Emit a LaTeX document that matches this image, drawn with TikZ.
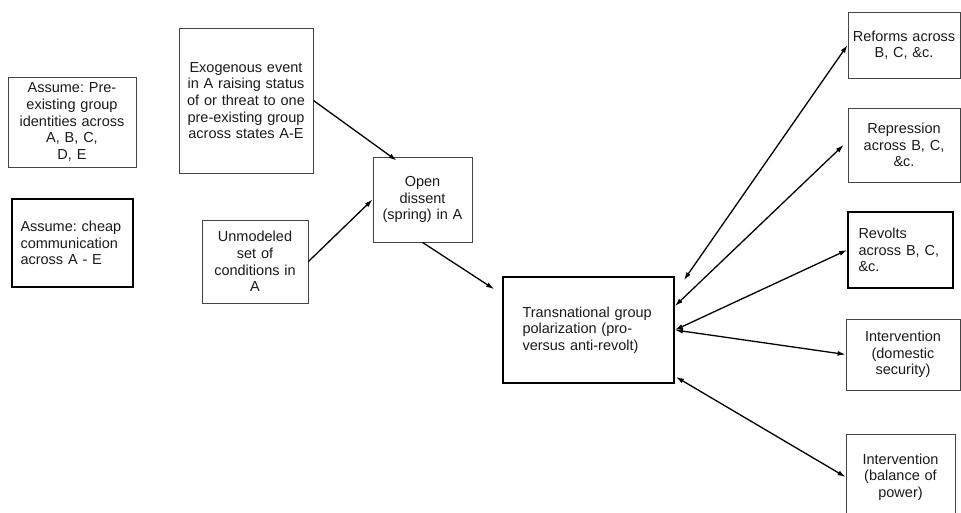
\documentclass[tikz,border=0pt]{standalone}
\usepackage{fontspec}
\setmainfont{Liberation Sans}
\usetikzlibrary{arrows.meta}
\definecolor{ink}{HTML}{1A1A1A}
\definecolor{thin}{HTML}{444444}
\tikzset{
  box/.style={draw=thin, line width=0.9pt, inner sep=0pt, text=ink,
    font=\frenchspacing\fontsize{14.5}{16.6}\selectfont, anchor=center},
  thickbox/.style={box, draw=black, line width=1.8pt},
  conn/.style={draw=black, line width=1.3pt, -{Latex[length=8pt,width=5pt]}},
  dconn/.style={draw=black, line width=1.3pt, {Latex[length=8pt,width=5pt]}-{Latex[length=8pt,width=5pt]}}
}
\begin{document}
\begin{tikzpicture}[x=1pt,y=-1pt]
\useasboundingbox (0,0) rectangle (961,513);
\clip (0,0) rectangle (961,513);
% left assumption boxes
\node[box, minimum width=128pt, minimum height=90pt, text width=124pt, align=center] (pre) at (72,122) {Assume: Pre-\\existing group\\identities across\\A, B, C,\\D, E};
\node[thickbox, minimum width=121pt, minimum height=88pt, text width=104pt, align=left] (cheap) at (72.5,243) {Assume: cheap\\communication\\across A - E};
% causes
\node[box, minimum width=134pt, minimum height=145pt, text width=130pt, align=center] (exo) at (246,100.5) {Exogenous event\\in A raising status\\of or threat to one\\pre-existing group\\across states A-E};
\node[box, minimum width=106pt, minimum height=83pt, text width=102pt, align=center] (unmod) at (255,261.5) {Unmodeled\\set of\\conditions in\\A};
\node[box, minimum width=99pt, minimum height=85pt, text width=95pt, align=center] (open) at (422.5,199.5) {Open\\dissent\\(spring) in A};
% central
\node[thickbox, minimum width=171pt, minimum height=106pt, text width=132pt, align=left] (trans) at (588.5,330) {Transnational group\\polarization (pro-\\versus anti-revolt)};
% outcomes
\node[box, minimum width=112pt, minimum height=66pt, text width=108pt, align=center] (reforms) at (904,45) {Reforms across\\B, C, \&c.};
\node[box, minimum width=112pt, minimum height=74pt, text width=108pt, align=center] (repr) at (904,145) {Repression\\across B, C,\\\&c.};
\node[thickbox, minimum width=105pt, minimum height=76pt, text width=84pt, align=left] (revolts) at (900.5,250) {Revolts\\across B, C,\\\&c.};
\node[box, minimum width=114pt, minimum height=71pt, text width=110pt, align=center] (dom) at (903,354.5) {Intervention\\(domestic\\security)};
\node[box, minimum width=109pt, minimum height=86pt, text width=105pt, align=center] (bal) at (900.5,477) {Intervention\\(balance of\\power)};
% connectors
\draw[conn] (exo.east) -- ([shift={(24,4)}]open.north west);
\draw[conn] (unmod.east) -- (open.west);
\draw[conn] (open.south) -- ([shift={(-8,13)}]trans.north west);
\draw[dconn] ([shift={(9,4)}]trans.north east) -- (reforms.west);
\draw[dconn] ([shift={(0,30)}]trans.north east) -- ([xshift=-4pt]repr.west);
\draw[dconn] (trans.east) -- (revolts.west);
\draw[dconn] (trans.east) -- (dom.west);
\draw[dconn] ([shift={(1,-7)}]trans.south east) -- (bal.west);
\end{tikzpicture}
\end{document}
